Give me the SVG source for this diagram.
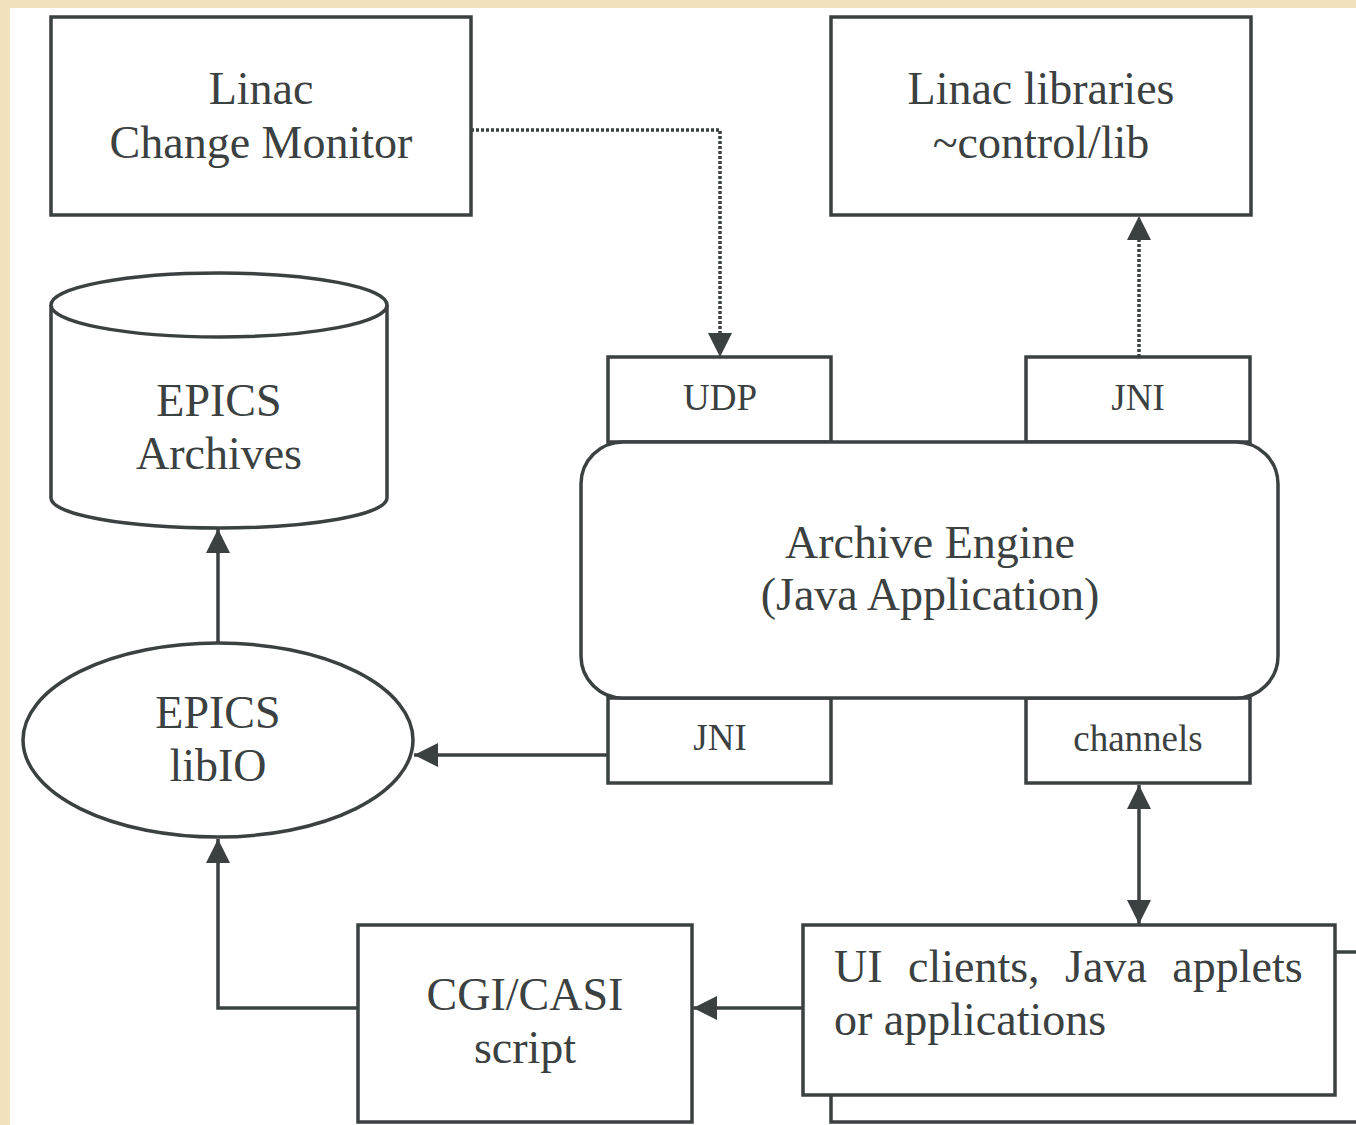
<svg xmlns="http://www.w3.org/2000/svg" width="1356" height="1125" viewBox="0 0 1356 1125">
<style>
.s{fill:#fff;stroke:#3b4040;stroke-width:3.5}
.l{fill:none;stroke:#3b4040;stroke-width:3.5}
.d{fill:none;stroke:#3b4040;stroke-width:3.5;stroke-dasharray:3 2}
.t{font-family:"Liberation Serif","Times New Roman",serif;font-size:46px;fill:#3b4040;text-anchor:middle}
.ts{font-family:"Liberation Serif","Times New Roman",serif;font-size:37px;fill:#3b4040;text-anchor:middle}
</style>
<defs>
<marker id="ah" viewBox="0 0 24 24" refX="24" refY="12" markerWidth="24" markerHeight="24" markerUnits="userSpaceOnUse" orient="auto-start-reverse">
<path d="M0,0 L24,12 L0,24 z" fill="#3b4040"/>
</marker>
</defs>
<rect x="0" y="0" width="1356" height="1125" fill="#fff"/>
<rect x="0" y="0" width="1356" height="8" fill="#f1e1bd"/>
<rect x="0" y="0" width="10" height="1125" fill="#f1e1bd"/>

<g id="linac-monitor">
<rect class="s" x="51" y="17" width="420" height="198"/>
<text class="t" x="261" y="104">Linac</text>
<text class="t" x="261" y="158">Change Monitor</text>
</g>
<g id="linac-libraries">
<rect class="s" x="831" y="17" width="420" height="198"/>
<text class="t" x="1041" y="104">Linac libraries</text>
<text class="t" x="1041" y="158">~control/lib</text>
</g>
<g id="epics-archives">
<path class="s" d="M51,305 L51,498 A168,30 0 0 0 387,498 L387,305"/>
<ellipse class="s" cx="219" cy="305" rx="168" ry="32"/>
<text class="t" x="219" y="416">EPICS</text>
<text class="t" x="219" y="469">Archives</text>
</g>
<g id="udp">
<rect class="s" x="608" y="357" width="223" height="85"/>
<text class="ts" x="720" y="410">UDP</text>
</g>
<g id="jni-top">
<rect class="s" x="1026" y="357" width="224" height="85"/>
<text class="ts" x="1138" y="410">JNI</text>
</g>
<g id="jni-bottom">
<rect class="s" x="608" y="698" width="223" height="85"/>
<text class="ts" x="720" y="750">JNI</text>
</g>
<g id="channels">
<rect class="s" x="1026" y="698" width="224" height="85"/>
<text class="ts" x="1138" y="751">channels</text>
</g>
<g id="archive-engine">
<rect class="s" x="581" y="442" width="697" height="256" rx="42" ry="42"/>
<text class="t" x="930" y="558">Archive Engine</text>
<text class="t" x="930" y="610">(Java Application)</text>
</g>
<g id="epics-libio">
<ellipse class="s" cx="218" cy="740" rx="195" ry="97"/>
<text class="t" x="218" y="728">EPICS</text>
<text class="t" x="218" y="781">libIO</text>
</g>
<g id="cgi-casi">
<rect class="s" x="358" y="925" width="334" height="197"/>
<text class="t" x="525" y="1010">CGI/CASI</text>
<text class="t" x="525" y="1063">script</text>
</g>
<g id="ui-clients">
<rect class="s" x="831" y="952" width="600" height="170"/>
<rect class="s" x="803" y="925" width="532" height="170"/>
<text class="t" x="834" y="982" style="text-anchor:start;word-spacing:14px">UI clients, Java applets</text>
<text class="t" x="834" y="1035" style="text-anchor:start">or applications</text>
</g>

<g id="connectors">
<path class="d" d="M471,130 L720,130 L720,340"/>
<path d="M708,333 L732,333 L720,357 z" fill="#3b4040"/>
<path class="d" d="M1139,357 L1139,235"/>
<path d="M1127,240 L1151,240 L1139,216 z" fill="#3b4040"/>
<path class="l" d="M608,755 L414,755" marker-end="url(#ah)"/>
<path class="l" d="M218,642 L218,529" marker-end="url(#ah)"/>
<path class="l" d="M358,1008 L218,1008 L218,839" marker-end="url(#ah)"/>
<path class="l" d="M803,1008 L693,1008" marker-end="url(#ah)"/>
<path class="l" d="M1139,785 L1139,924" marker-start="url(#ah)" marker-end="url(#ah)"/>
</g>
</svg>
